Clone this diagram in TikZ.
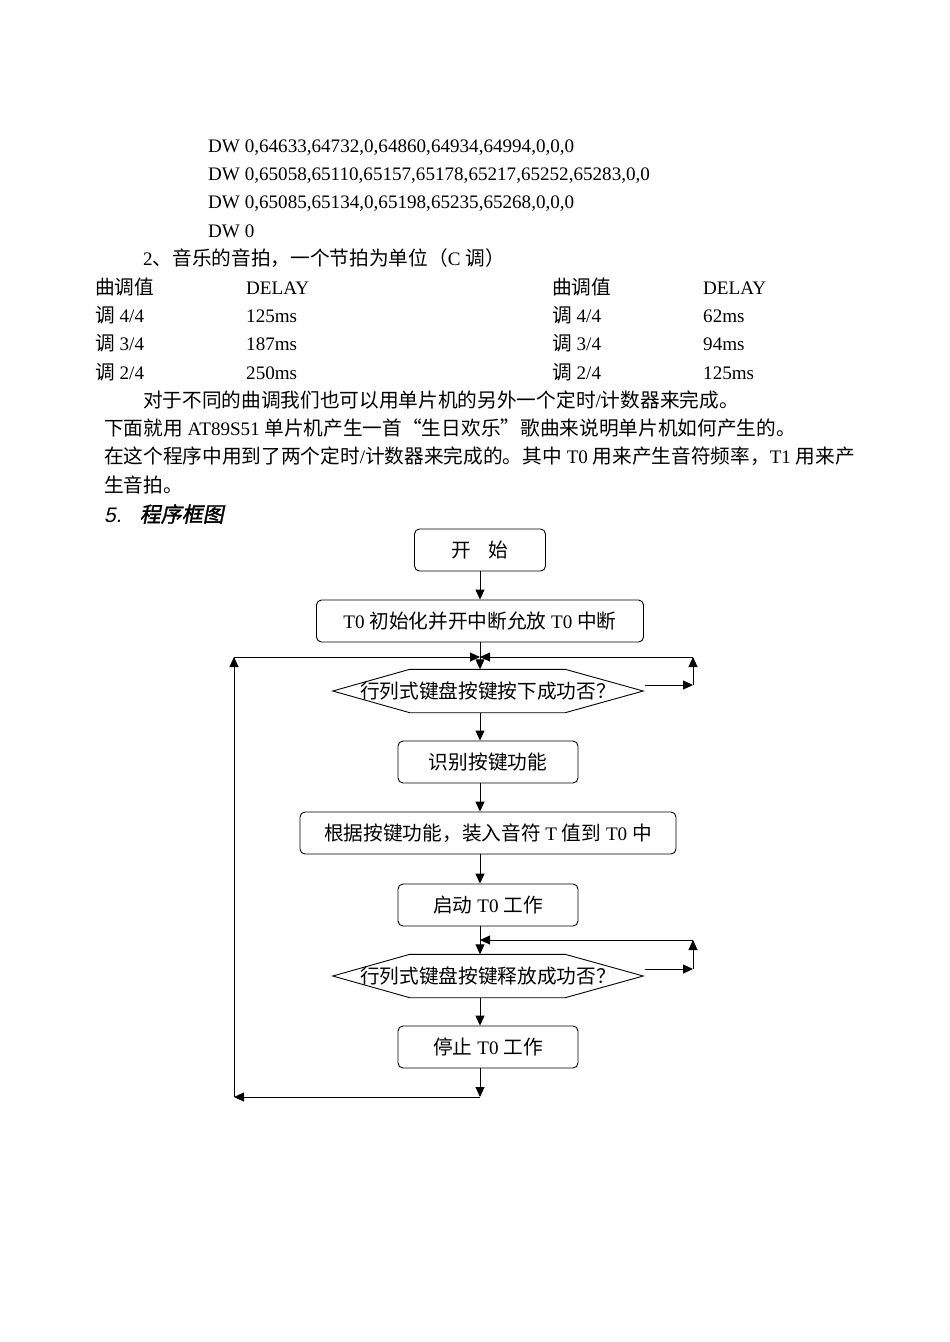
\documentclass[tikz,border=0pt]{standalone}
\usepackage{fontspec}
\setmainfont{Liberation Serif}
\newfontfamily\cjk[Scale=1.03]{Noto Sans CJK SC}
\newfontfamily\cjkit[FakeSlant=0.2,FakeBold=1.5]{Noto Sans CJK SC}
\newfontfamily\hdit[FakeSlant=0.2]{Liberation Sans}
\newcommand{\C}[1]{{\cjk #1}}
\usetikzlibrary{arrows.meta}
\begin{document}
\begin{tikzpicture}[x=1pt,y=-1pt,font=\fontsize{19.1}{19.1}\selectfont,
 txt/.style={anchor=base west,inner sep=0},
 rbox/.style={draw,rounded corners=5pt,minimum height=42pt,line width=0.9pt},
 hx/.style={inner sep=0,minimum width=310pt,minimum height=43pt},
 ar/.style={-{Triangle[length=10pt,width=9pt]},line width=0.9pt},
 ln/.style={line width=0.9pt}]
\useasboundingbox (0,0) rectangle (950,1342);
\node[txt] (l1) at (208,152) {DW 0,64633,64732,0,64860,64934,64994,0,0,0};
\node[txt] (l2) at (208,180) {DW 0,65058,65110,65157,65178,65217,65252,65283,0,0};
\node[txt] (l3) at (208,208) {DW 0,65085,65134,0,65198,65235,65268,0,0,0};
\node[txt] (l4) at (208,237) {DW 0};
\node[txt] (l5) at (143,265) {2\C{、音乐的音拍，一个节拍为单位（}C \C{调）}};
\node[txt] (a1) at (95,294) {\C{曲调值}};
\node[txt] (b1) at (246,294) {DELAY};
\node[txt] (c1) at (552,294) {\C{曲调值}};
\node[txt] (d1) at (703,294) {DELAY};
\node[txt] (a2) at (95,322) {\C{调} 4/4};
\node[txt] (b2) at (246,322) {125ms};
\node[txt] (c2) at (552,322) {\C{调} 4/4};
\node[txt] (d2) at (703,322) {62ms};
\node[txt] (a3) at (95,350) {\C{调} 3/4};
\node[txt] (b3) at (246,350) {187ms};
\node[txt] (c3) at (552,350) {\C{调} 3/4};
\node[txt] (d3) at (703,350) {94ms};
\node[txt] (a4) at (95,379) {\C{调} 2/4};
\node[txt] (b4) at (246,379) {250ms};
\node[txt] (c4) at (552,379) {\C{调} 2/4};
\node[txt] (d4) at (703,379) {125ms};
\node[txt] (p1) at (143,407) {\C{对于不同的曲调我们也可以用单片机的另外一个定时}/\C{计数器来完成。}};
\node[txt] (p2) at (104,435) {\C{下面就用} AT89S51 \C{单片机产生一首“生日欢乐”歌曲来说明单片机如何产生的。}};
\node[txt] (p3) at (104,463) {\C{在这个程序中用到了两个定时}/\C{计数器来完成的。其中} T0 \C{用来产生音符频率，}T1 \C{用来产}};
\node[txt] (p4) at (104,492) {\C{生音拍。}};
\node[txt] (h) at (104,522) {\fontsize{21}{21}\selectfont{\hdit 5.}\hspace{18pt}{\cjkit 程序框图}};
% flowchart
\node[rbox,minimum width=131pt] (s) at (480,550) {\C{开\hspace{17pt}始}};
\node[rbox,minimum width=327pt] (i) at (480,621) {T0 \C{初始化并开中断允放} T0 \C{中断}};
\node[hx] (d1n) at (488,691) {\C{行列式键盘按键按下成功否？}};
\draw[ln] (d1n.west) -- ([xshift=77pt]d1n.north west) -- ([xshift=-78pt]d1n.north east) -- (d1n.east) -- ([xshift=-78pt]d1n.south east) -- ([xshift=77pt]d1n.south west) -- cycle;
\node[rbox,minimum width=180pt] (k) at (488,762) {\C{识别按键功能}};
\node[rbox,minimum width=376pt] (g) at (488,833) {\C{根据按键功能，装入音符} T \C{值到} T0 \C{中}};
\node[rbox,minimum width=180pt] (q) at (488,905) {\C{启动} T0 \C{工作}};
\node[hx] (d2n) at (488,976) {\C{行列式键盘按键释放成功否？}};
\draw[ln] (d2n.west) -- ([xshift=77pt]d2n.north west) -- ([xshift=-78pt]d2n.north east) -- (d2n.east) -- ([xshift=-78pt]d2n.south east) -- ([xshift=77pt]d2n.south west) -- cycle;
\node[rbox,minimum width=180pt] (t) at (488,1047) {\C{停止} T0 \C{工作}};
\coordinate (m1) at (480,657);
\coordinate (m2) at (480,940);
\coordinate (bot) at (480,1097);
\coordinate (lb) at (234,1097);
\coordinate (lt) at (234,657);
\coordinate (r1a) at (645,685);
\coordinate (r1b) at (693,685);
\coordinate (r1c) at (693,657);
\coordinate (r2a) at (645,969);
\coordinate (r2b) at (693,969);
\coordinate (r2c) at (693,940);
\draw[ar] (s.south -| m1) -- (i.north -| m1);
\draw[ln] (i.south -| m1) -- (m1);
\draw[ar] (m1) -- (d1n.north -| m1);
\draw[ar] (d1n.south -| m1) -- (k.north -| m1);
\draw[ar] (k.south -| m1) -- (g.north -| m1);
\draw[ar] (g.south -| m1) -- (q.north -| m1);
\draw[ar] (q.south -| m1) -- (d2n.north -| m1);
\draw[ar] (d2n.south -| m1) -- (t.north -| m1);
\draw[ar] (t.south -| m1) -- (bot);
\draw[ar] (bot) -- (lb);
\draw[ar] (lb) -- (lt);
\draw[ar] (lt) -- (m1);
\draw[ar] (r1a) -- (r1b);
\draw[ar] (r1b) -- (r1c);
\draw[ar] (r1c) -- (m1);
\draw[ar] (r2a) -- (r2b);
\draw[ar] (r2b) -- (r2c);
\draw[ar] (r2c) -- (m2);
\end{tikzpicture}
\end{document}
